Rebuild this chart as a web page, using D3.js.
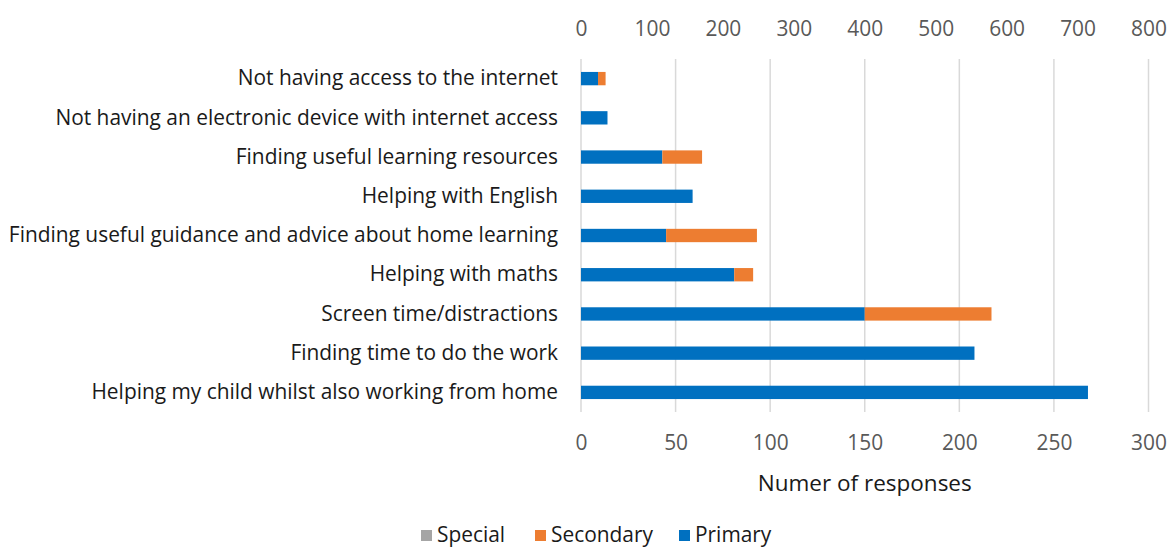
<!DOCTYPE html>
<html>
<head>
<meta charset="utf-8">
<script src="https://cdn.jsdelivr.net/npm/d3@7"></script>
<style>
  html, body { margin: 0; padding: 0; background: #fff; }
  svg, svg text { font-family: "Open Sans", "Noto Sans", sans-serif; }
  svg { display: block; }
</style>
</head>
<body>
<svg id="chart" width="1170" height="548"></svg>
<script>
// Barriers to home learning, by school phase
const categories = [
  "Not having access to the internet",
  "Not having an electronic device with internet access",
  "Finding useful learning resources",
  "Helping with English",
  "Finding useful guidance and advice about home learning",
  "Helping with maths",
  "Screen time/distractions",
  "Finding time to do the work",
  "Helping my child whilst also working from home"
];
const primaryValues   = [9, 14, 43, 59, 45, 81, 150, 208, 268];
const secondaryValues = [4, 0, 21, 0, 48, 10, 67, 0, 0];
const specialValues   = [0, 0, 0, 0, 0, 0, 0, 0, 0];   // plotted on the upper axis

const bottomTicks = [0, 50, 100, 150, 200, 250, 300];
const topTicks = [0, 100, 200, 300, 400, 500, 600, 700, 800];

const seriesNames = ["Special", "Secondary", "Primary"];
const seriesColors = ["#A5A5A5", "#ED7D31", "#0070C0"];

const svg = d3.select("#chart");
const plotLeft = 581, plotRight = 1148.5, plotTop = 59, plotBottom = 412;
const fontSize = 20.9;
const fontFamily = "\"Open Sans\", \"Noto Sans\", sans-serif";

const x = d3.scaleLinear().domain([0, 300]).range([plotLeft, plotRight]);
const x2 = d3.scaleLinear().domain([0, 800]).range([plotLeft, plotRight]);
const y = d3.scaleBand().domain(categories).range([plotTop, plotBottom]).paddingInner(0.66).paddingOuter(0.33);

// vertical gridlines
svg.append("g")
  .selectAll("line")
  .data(bottomTicks)
  .join("line")
  .attr("x1", d => x(d)).attr("x2", d => x(d))
  .attr("y1", plotTop).attr("y2", plotBottom)
  .attr("stroke", "#d9d9d9").attr("stroke-width", 1.5);

// bottom axis (primary)
const xAxis = svg.append("g")
  .attr("transform", `translate(0,${plotBottom})`)
  .call(d3.axisBottom(x).tickValues(bottomTicks).tickSize(0));
xAxis.attr("font-family", fontFamily).attr("font-size", fontSize);
xAxis.select(".domain").remove();
xAxis.selectAll("text").attr("y", 38).attr("dy", null).attr("fill", "#595959");

// top axis (secondary)
const x2Axis = svg.append("g")
  .attr("transform", `translate(0,${plotTop})`)
  .call(d3.axisTop(x2).tickValues(topTicks).tickSize(0));
x2Axis.attr("font-family", fontFamily).attr("font-size", fontSize);
x2Axis.select(".domain").remove();
x2Axis.selectAll("text").attr("y", -23).attr("dy", null).attr("fill", "#595959");

// category labels
const yAxis = svg.append("g")
  .attr("transform", `translate(${plotLeft},0)`)
  .call(d3.axisLeft(y).tickSize(0).tickPadding(23));
yAxis.attr("font-family", fontFamily).attr("font-size", fontSize);
yAxis.select(".domain").remove();
yAxis.selectAll("text").attr("fill", "#1a1a1a");

// stacked bars: primary then secondary
const rows = categories.map((c, i) => ({ c, p: primaryValues[i], s: secondaryValues[i], sp: specialValues[i] }));
svg.append("g").selectAll("rect")
  .data(rows).join("rect")
  .attr("x", d => x(0)).attr("y", d => y(d.c))
  .attr("width", d => x(d.p) - x(0)).attr("height", y.bandwidth())
  .attr("fill", seriesColors[2]);
svg.append("g").selectAll("rect")
  .data(rows).join("rect")
  .attr("x", d => x(d.p)).attr("y", d => y(d.c))
  .attr("width", d => x(d.p + d.s) - x(d.p)).attr("height", y.bandwidth())
  .attr("fill", seriesColors[1]);
svg.append("g").selectAll("rect")
  .data(rows).join("rect")
  .attr("x", d => x2(0)).attr("y", d => y(d.c))
  .attr("width", d => x2(d.sp) - x2(0)).attr("height", y.bandwidth())
  .attr("fill", seriesColors[0]);

// axis title
svg.append("text")
  .attr("x", (plotLeft + plotRight) / 2).attr("y", 491)
  .attr("text-anchor", "middle")
  .attr("font-size", 22.5).attr("fill", "#1a1a1a")
  .text("Numer of responses");

// legend
const legendX = [421, 535, 679];
const legend = svg.append("g");
seriesNames.forEach((n, i) => {
  legend.append("rect")
    .attr("x", legendX[i]).attr("y", 530).attr("width", 11).attr("height", 11)
    .attr("fill", seriesColors[i]);
  legend.append("text")
    .attr("x", legendX[i] + 16).attr("y", 542)
    .attr("font-size", fontSize).attr("fill", "#1a1a1a")
    .text(n);
});
</script>
</body>
</html>
